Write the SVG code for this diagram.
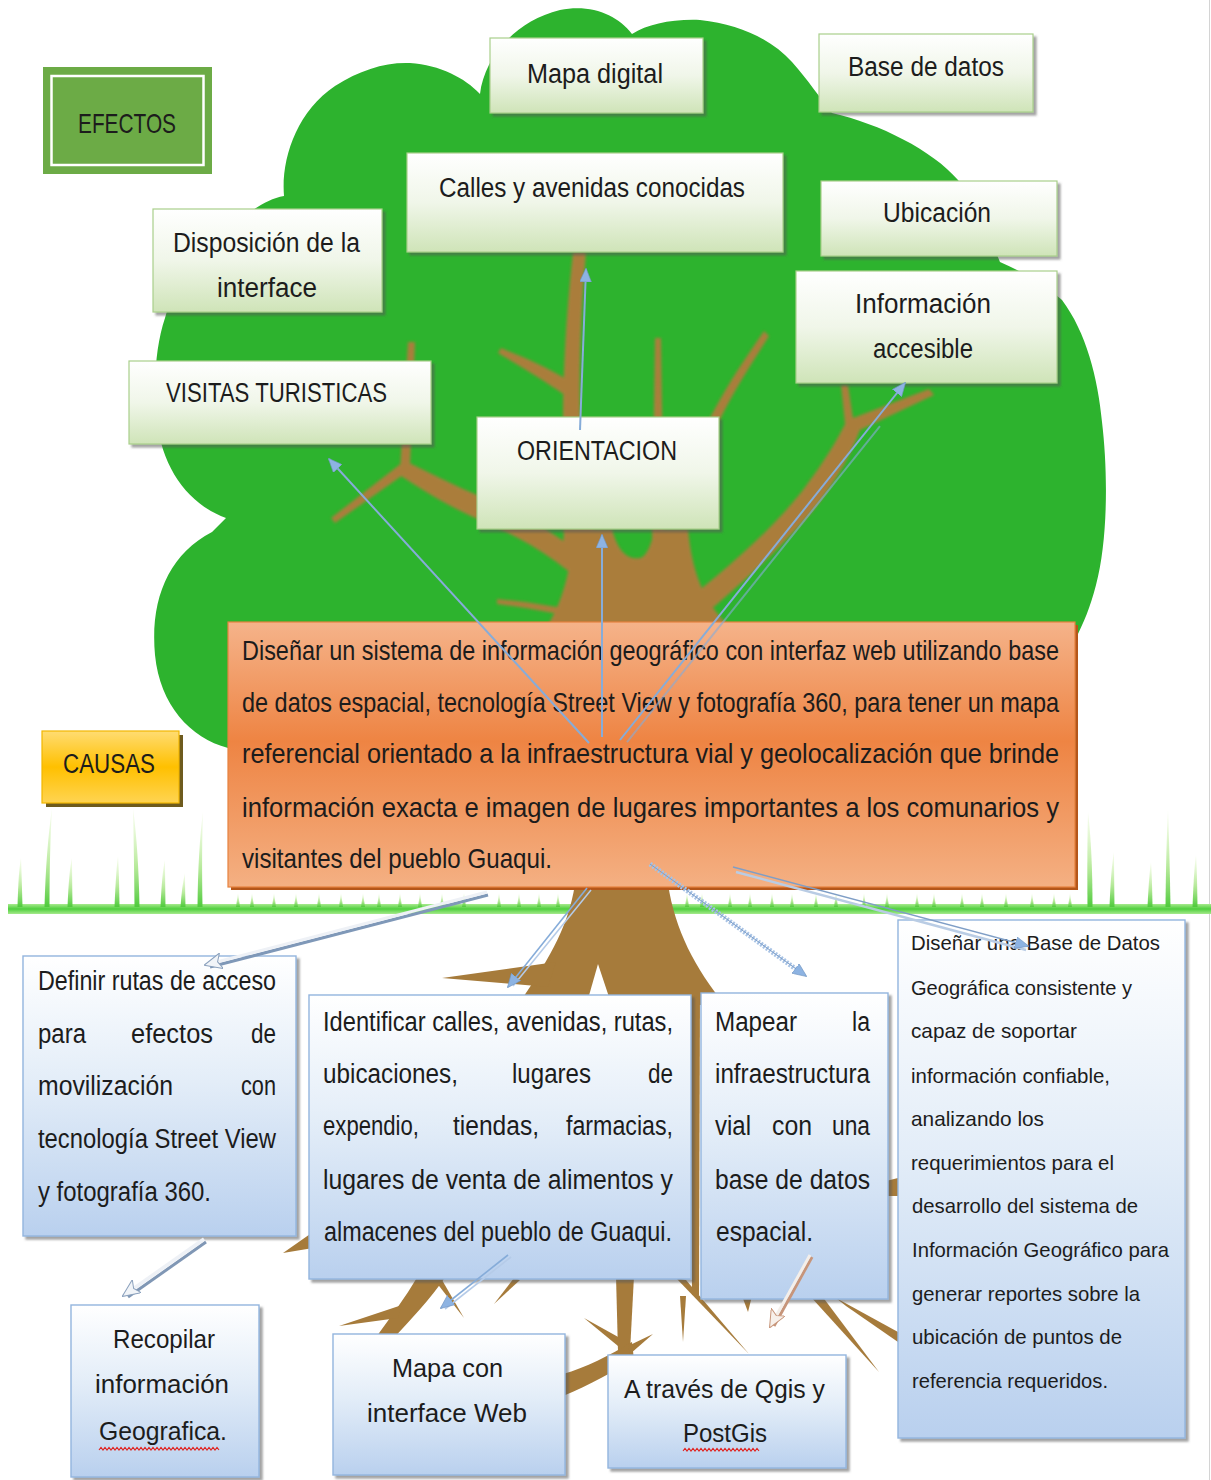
<svg xmlns="http://www.w3.org/2000/svg" width="1211" height="1480" viewBox="0 0 1211 1480">
  <defs>
    <style>
      .txt { font-family: "Liberation Sans", Arial, sans-serif; fill: #1c1c1c; }
      .f28 { font-size: 28px; }
      .f27 { font-size: 27px; }
      .f25 { font-size: 25px; }
      .f21 { font-size: 21px; }
      .effect { fill: url(#gEffect); stroke: #a9cf8b; stroke-width: 1.2; filter: url(#shadow); }
      .cause { fill: url(#gCause); stroke: #93b5de; stroke-width: 1.4; filter: url(#shadow); }
      .wood { fill: #b5793d; }
      .root { fill: #a67b3b; }
      .blade { fill: url(#gBlade); }
      .link { fill: none; stroke: #86acd9; stroke-width: 2; }
      .squig { fill: none; stroke: #e0201c; stroke-width: 1.1; }
    </style>
    <linearGradient id="gEffect" x1="0" y1="0" x2="0" y2="1">
      <stop offset="0" stop-color="#ffffff"/>
      <stop offset="0.5" stop-color="#f0f6e9"/>
      <stop offset="1" stop-color="#cfe4b8"/>
    </linearGradient>
    <linearGradient id="gCause" x1="0" y1="0" x2="0" y2="1">
      <stop offset="0" stop-color="#ffffff"/>
      <stop offset="0.45" stop-color="#e3edf8"/>
      <stop offset="1" stop-color="#b9d0ee"/>
    </linearGradient>
    <linearGradient id="gCore" x1="0" y1="0" x2="0" y2="1">
      <stop offset="0" stop-color="#f5b38a"/>
      <stop offset="0.45" stop-color="#ee8443"/>
      <stop offset="1" stop-color="#f4b083"/>
    </linearGradient>
    <linearGradient id="gGold" x1="0" y1="0" x2="0" y2="1">
      <stop offset="0" stop-color="#ffdc72"/>
      <stop offset="0.5" stop-color="#ffc000"/>
      <stop offset="1" stop-color="#ffd452"/>
    </linearGradient>
    <linearGradient id="gBlade" x1="0" y1="0" x2="0" y2="1">
      <stop offset="0" stop-color="#d9f5b5" stop-opacity="0.2"/>
      <stop offset="0.6" stop-color="#a7e586" stop-opacity="0.85"/>
      <stop offset="1" stop-color="#4fca3c"/>
    </linearGradient>
    <linearGradient id="gGround" x1="0" y1="0" x2="0" y2="1">
      <stop offset="0" stop-color="#a6ea8c"/>
      <stop offset="0.5" stop-color="#4fcf3e"/>
      <stop offset="1" stop-color="#a6ea8c"/>
    </linearGradient>
    <filter id="shadow" x="-5%" y="-5%" width="115%" height="120%">
      <feDropShadow dx="3" dy="3" stdDeviation="1.2" flood-color="#555555" flood-opacity="0.55"/>
    </filter>
    <filter id="soft" x="-5%" y="-5%" width="110%" height="110%">
      <feGaussianBlur stdDeviation="1.4"/>
    </filter>
    <marker id="mb" viewBox="0 0 14 12" markerUnits="userSpaceOnUse" markerWidth="14" markerHeight="12" refX="13" refY="6" orient="auto">
      <path d="M0,0 L14,6 L0,12 Z" fill="#8db3e2" stroke="#6f93c0" stroke-width="0.6"/>
    </marker>
    <marker id="mw" viewBox="0 0 18 16" markerUnits="userSpaceOnUse" markerWidth="18" markerHeight="16" refX="17" refY="8" orient="auto">
      <path d="M0,0 L18,8 L0,16 L4,8 Z" fill="#f1f4f8" stroke="#8aa0bc" stroke-width="1"/>
    </marker>
    <marker id="mt" viewBox="0 0 18 16" markerUnits="userSpaceOnUse" markerWidth="18" markerHeight="16" refX="17" refY="8" orient="auto">
      <path d="M0,0 L18,8 L0,16 L4,8 Z" fill="#f7f0ea" stroke="#c7957a" stroke-width="1"/>
    </marker>
  </defs>

  <rect x="0" y="0" width="1211" height="1480" fill="#ffffff"/>
  <line x1="1209.5" y1="0" x2="1209.5" y2="1480" stroke="#d4d4d4" stroke-width="1"/>

  <!-- tree crown -->
  <g id="crown">
    <path fill="#2db32e" d="M228 748 C190 738 160 705 155 655 C150 600 168 555 212 532 L226 518
      C190 505 162 470 157 420 C153 380 156 345 165 318 C178 270 212 225 253 210
      C263 203 273 198 284 196 C281 160 296 112 335 86 C360 70 385 62 410 63
      C440 65 465 78 480 94 C484 60 512 22 560 10 C592 4 617 15 632 34
      C648 24 672 19 700 20 C740 24 772 40 792 62 C808 80 820 98 832 113
      C880 124 932 150 958 180 C975 203 990 238 1000 262 C1028 274 1048 288 1062 300
      C1086 332 1098 378 1102 422 C1108 472 1108 540 1096 585 C1090 608 1084 622 1075 640
      L1075 760 L228 760 Z"/>
  </g>

  <!-- branches inside the crown -->
  <g id="branches" filter="url(#soft)" opacity="0.92">
    <path class="wood" d="M548 625 C566 595 572 560 573 529 L612 529 C618 552 628 560 640 558 C648 556 652 540 655 529 L688 529 C692 570 702 600 728 625 Z"/>
    <path class="wood" d="M562 560 C566 520 563 470 563 413 C564 340 569 290 573 252 L586 252 C582 300 579 350 580 413 C582 470 590 520 602 560 Z"/>
    <path class="wood" d="M566 396 C545 381 520 366 498 353 L501 348 C525 358 549 368 569 381 Z"/>
    <path class="wood" d="M652 540 L655 338 L661 338 L664 540 Z"/>
    <path class="wood" d="M690 470 C703 420 736 372 764 331 L769 336 C744 376 714 420 701 470 Z"/>
    <path class="wood" d="M662 620 C706 585 764 540 803 490 C824 462 836 442 845 424 L841 385 L848 385 L853 418 L929 389 L934 395 L860 430 C849 460 830 490 810 514 C770 560 722 600 694 624 Z"/>
    <path class="wood" d="M604 604 C568 566 528 540 480 520 C448 506 422 490 398 474 L403 460 C428 472 455 486 484 498 C532 517 574 544 616 586 Z"/>
    <path class="wood" d="M400 470 L408 342 L415 342 L410 466 Z"/>
    <path class="wood" d="M403 462 L331 518 L335 523 L410 470 Z"/>
    <path class="wood" d="M590 614 C560 607 530 602 497 599 L497 604 C530 608 560 614 590 621 Z"/>
  </g>

  <!-- ground line and grass -->
  <g id="ground">
    <rect x="8" y="904" width="1203" height="10" fill="url(#gGround)"/>
    <path class="blade" d="M17.5 907 Q18.5 870 21 858 Q21.5 870 22.5 907 Z"/>
    <path class="blade" d="M44.5 907 Q46 850 52 808 Q49.5 850 49.5 907 Z"/>
    <path class="blade" d="M67.5 907 Q69 870 72 858 Q72 870 72.5 907 Z"/>
    <path class="blade" d="M114.5 907 Q116 870 118 856 Q119 870 119.5 907 Z"/>
    <path class="blade" d="M134.5 907 Q134 850 133 808 Q138.5 850 139.5 907 Z"/>
    <path class="blade" d="M160.5 907 Q162 872 165 860 Q165 872 165.5 907 Z"/>
    <path class="blade" d="M180.5 907 Q182 885 185 873 Q185 885 185.5 907 Z"/>
    <path class="blade" d="M197.5 907 Q198 850 203 812 Q201.5 850 202.5 907 Z"/>
    <path class="blade" d="M1087.5 907 Q1087 850 1088 812 Q1092.5 850 1092.5 907 Z"/>
    <path class="blade" d="M1109.5 907 Q1111 868 1114 852 Q1114 868 1114.5 907 Z"/>
    <path class="blade" d="M1147.5 907 Q1149 875 1151 862 Q1152 875 1152.5 907 Z"/>
    <path class="blade" d="M1165.5 907 Q1166 850 1168 810 Q1169.5 850 1170.5 907 Z"/>
    <path class="blade" d="M1192.5 907 Q1194 868 1196 855 Q1197 868 1197.5 907 Z"/>
    <g class="blade">
      <path d="M236 907 L238 893 L240 907 Z"/><path d="M250 907 L252 893 L254 907 Z"/>
      <path d="M272 907 L274 893 L276 907 Z"/><path d="M294 907 L296 893 L298 907 Z"/>
      <path d="M317 907 L319 893 L321 907 Z"/><path d="M339 907 L341 893 L343 907 Z"/>
      <path d="M361 907 L363 893 L365 907 Z"/><path d="M377 907 L379 893 L381 907 Z"/>
      <path d="M398 907 L400 893 L402 907 Z"/><path d="M418 907 L420 893 L422 907 Z"/>
      <path d="M440 907 L442 893 L444 907 Z"/><path d="M462 907 L464 893 L466 907 Z"/>
      <path d="M497 907 L499 893 L501 907 Z"/><path d="M517 907 L519 893 L521 907 Z"/>
      <path d="M537 907 L539 893 L541 907 Z"/><path d="M556 907 L558 893 L560 907 Z"/>
      <path d="M685 907 L687 893 L689 907 Z"/><path d="M700 907 L702 893 L704 907 Z"/>
      <path d="M728 907 L730 893 L732 907 Z"/><path d="M748 907 L750 893 L752 907 Z"/>
      <path d="M770 907 L772 893 L774 907 Z"/><path d="M790 907 L792 893 L794 907 Z"/>
      <path d="M814 907 L816 893 L818 907 Z"/><path d="M834 907 L836 893 L838 907 Z"/>
      <path d="M862 907 L864 893 L866 907 Z"/><path d="M885 907 L887 893 L889 907 Z"/>
      <path d="M915 907 L917 893 L919 907 Z"/><path d="M932 907 L934 893 L936 907 Z"/>
      <path d="M960 907 L962 893 L964 907 Z"/><path d="M980 907 L982 893 L984 907 Z"/>
      <path d="M1004 907 L1006 893 L1008 907 Z"/><path d="M1030 907 L1032 893 L1034 907 Z"/>
      <path d="M1052 907 L1054 893 L1056 907 Z"/><path d="M1068 907 L1070 893 L1072 907 Z"/>
    </g>
  </g>

  <!-- trunk and roots below the ground -->
  <g id="roots">
    <path class="root" d="M575 884 L668 884 C675 930 695 968 725 1005 L518 1005 C545 965 568 930 575 884 Z"/>
    <path fill="#ffffff" d="M586 1006 L598 964 L612 1006 Z"/>
    <path class="root" d="M556 962 L442 978 L548 987 Z"/>
    <path class="root" d="M690 990 L700 990 L699 1295 L692 1295 Z"/>
    <path class="root" d="M313 1232 L283 1253 L313 1248 Z"/>
    <path class="root" d="M418 1276 L446 1276 C430 1300 410 1320 392 1340 L374 1340 C390 1318 405 1298 418 1276 Z"/>
    <path class="root" d="M402 1305 L339 1326 L398 1318 Z"/>
    <path class="root" d="M436 1282 L464 1318 L442 1280 Z"/>
    <path class="root" d="M514 1278 L494 1304 L520 1280 Z"/>
    <path class="root" d="M616 1276 L634 1276 L630 1352 L618 1352 Z"/>
    <path class="root" d="M632 1342 C610 1355 585 1368 563 1374 L563 1396 C590 1385 615 1370 634 1360 Z"/>
    <path class="root" d="M620 1338 L584 1318 L618 1346 Z"/>
    <path class="root" d="M628 1346 L653 1334 L630 1354 Z"/>
    <path class="root" d="M676 1278 L749 1354 L686 1280 Z"/>
    <path class="root" d="M680 1296 L683 1342 L686 1296 Z"/>
    <path class="root" d="M810 1296 L879 1372 L822 1296 Z"/>
    <path class="root" d="M836 1298 L898 1332 L898 1342 L846 1306 Z"/>
    <path class="root" d="M742 1296 L748 1312 L752 1296 Z"/>
    <path class="root" d="M882 1182 L898 1178 L898 1196 L884 1196 Z"/>
  </g>

  <!-- effect nodes -->
  <g id="node-efectos">
    <rect x="43" y="67" width="169" height="107" fill="#6cab46"/>
    <rect x="51.5" y="76" width="152" height="89" fill="none" stroke="#ffffff" stroke-width="2.5"/>
    <text class="txt f28" x="78" y="133" textLength="98" lengthAdjust="spacingAndGlyphs">EFECTOS</text>
  </g>
  <g id="node-mapa-digital">
    <rect class="effect" x="490" y="38" width="213" height="75"/>
    <text class="txt f27" x="527" y="83" textLength="136" lengthAdjust="spacingAndGlyphs">Mapa digital</text>
  </g>
  <g id="node-base-datos">
    <rect class="effect" x="819" y="34" width="214" height="78"/>
    <text class="txt f27" x="848" y="76" textLength="156" lengthAdjust="spacingAndGlyphs">Base de datos</text>
  </g>
  <g id="node-calles">
    <rect class="effect" x="407" y="153" width="376" height="99"/>
    <text class="txt f27" x="439" y="197" textLength="306" lengthAdjust="spacingAndGlyphs">Calles y avenidas conocidas</text>
  </g>
  <g id="node-ubicacion">
    <rect class="effect" x="821" y="181" width="236" height="75"/>
    <text class="txt f27" x="883" y="222" textLength="108" lengthAdjust="spacingAndGlyphs">Ubicación</text>
  </g>
  <g id="node-informacion">
    <rect class="effect" x="796" y="271" width="261" height="112"/>
    <text class="txt f27" x="855" y="313" textLength="136" lengthAdjust="spacingAndGlyphs">Información</text>
    <text class="txt f27" x="873" y="358" textLength="100" lengthAdjust="spacingAndGlyphs">accesible</text>
  </g>
  <g id="node-disposicion">
    <rect class="effect" x="153" y="209" width="229" height="103"/>
    <text class="txt f27" x="173" y="252" textLength="187" lengthAdjust="spacingAndGlyphs">Disposición  de la</text>
    <text class="txt f27" x="217" y="297" textLength="100" lengthAdjust="spacingAndGlyphs">interface</text>
  </g>
  <g id="node-visitas">
    <rect class="effect" x="129" y="361" width="302" height="83"/>
    <text class="txt f27" x="166" y="402" textLength="221" lengthAdjust="spacingAndGlyphs">VISITAS TURISTICAS</text>
  </g>
  <g id="node-orientacion">
    <rect class="effect" x="477" y="417" width="242" height="112"/>
    <text class="txt f27" x="517" y="460" textLength="160" lengthAdjust="spacingAndGlyphs">ORIENTACION</text>
  </g>

  <!-- central problem node -->
  <g id="node-objetivo">
    <rect x="231" y="625" width="847" height="265" fill="#b4561a"/>
    <rect x="228" y="622" width="847" height="265" fill="url(#gCore)" stroke="#e6823f" stroke-width="1.2"/>
    <text class="txt f28" x="242" y="660" textLength="817" lengthAdjust="spacingAndGlyphs">Diseñar un sistema de información geográfico con interfaz web utilizando base</text>
    <text class="txt f28" x="242" y="712" textLength="817" lengthAdjust="spacingAndGlyphs">de datos espacial, tecnología Street View y fotografía 360, para tener un mapa</text>
    <text class="txt f28" x="242" y="763" textLength="817" lengthAdjust="spacingAndGlyphs">referencial  orientado  a  la  infraestructura vial  y  geolocalización  que  brinde</text>
    <text class="txt f28" x="242" y="817" textLength="817" lengthAdjust="spacingAndGlyphs">información  exacta  e  imagen  de  lugares  importantes  a  los  comunarios  y</text>
    <text class="txt f28" x="242" y="868" textLength="310" lengthAdjust="spacingAndGlyphs">visitantes del pueblo Guaqui.</text>
  </g>

  <g id="node-causas">
    <rect x="46" y="735" width="137" height="72" fill="#6e5b1e"/>
    <rect x="42" y="731" width="137" height="72" fill="url(#gGold)" stroke="#f2b600" stroke-width="1.2"/>
    <text class="txt f27" x="63" y="773" textLength="92" lengthAdjust="spacingAndGlyphs">CAUSAS</text>
  </g>

  <!-- cause nodes -->
  <g id="node-definir">
    <rect class="cause" x="23" y="956" width="273" height="280"/>
    <text class="txt f27" x="38" y="990" textLength="238" lengthAdjust="spacingAndGlyphs">Definir rutas de acceso</text>
    <text class="txt f27" x="38" y="1043" textLength="48" lengthAdjust="spacingAndGlyphs">para</text>
    <text class="txt f27" x="131" y="1043" textLength="82" lengthAdjust="spacingAndGlyphs">efectos</text>
    <text class="txt f27" x="251" y="1043" textLength="25" lengthAdjust="spacingAndGlyphs">de</text>
    <text class="txt f27" x="38" y="1095" textLength="135" lengthAdjust="spacingAndGlyphs">movilización</text>
    <text class="txt f27" x="241" y="1095" textLength="35" lengthAdjust="spacingAndGlyphs">con</text>
    <text class="txt f27" x="38" y="1148" textLength="238" lengthAdjust="spacingAndGlyphs">tecnología Street View</text>
    <text class="txt f27" x="38" y="1201" textLength="173" lengthAdjust="spacingAndGlyphs">y fotografía 360.</text>
  </g>
  <g id="node-identificar">
    <rect class="cause" x="309" y="995" width="382" height="284"/>
    <text class="txt f27" x="323" y="1031" textLength="350" lengthAdjust="spacingAndGlyphs">Identificar calles, avenidas, rutas,</text>
    <text class="txt f27" x="323" y="1083" textLength="135" lengthAdjust="spacingAndGlyphs">ubicaciones,</text>
    <text class="txt f27" x="512" y="1083" textLength="79" lengthAdjust="spacingAndGlyphs">lugares</text>
    <text class="txt f27" x="648" y="1083" textLength="25" lengthAdjust="spacingAndGlyphs">de</text>
    <text class="txt f27" x="323" y="1135" textLength="96" lengthAdjust="spacingAndGlyphs">expendio,</text>
    <text class="txt f27" x="453" y="1135" textLength="86" lengthAdjust="spacingAndGlyphs">tiendas,</text>
    <text class="txt f27" x="566" y="1135" textLength="107" lengthAdjust="spacingAndGlyphs">farmacias,</text>
    <text class="txt f27" x="323" y="1189" textLength="350" lengthAdjust="spacingAndGlyphs">lugares de venta de alimentos y</text>
    <text class="txt f27" x="324" y="1241" textLength="348" lengthAdjust="spacingAndGlyphs">almacenes del pueblo de Guaqui.</text>
  </g>
  <g id="node-mapear">
    <rect class="cause" x="701" y="993" width="187" height="306"/>
    <text class="txt f27" x="715" y="1031" textLength="82" lengthAdjust="spacingAndGlyphs">Mapear</text>
    <text class="txt f27" x="852" y="1031" textLength="18" lengthAdjust="spacingAndGlyphs">la</text>
    <text class="txt f27" x="715" y="1083" textLength="155" lengthAdjust="spacingAndGlyphs">infraestructura</text>
    <text class="txt f27" x="715" y="1135" textLength="36" lengthAdjust="spacingAndGlyphs">vial</text>
    <text class="txt f27" x="772" y="1135" textLength="40" lengthAdjust="spacingAndGlyphs">con</text>
    <text class="txt f27" x="832" y="1135" textLength="38" lengthAdjust="spacingAndGlyphs">una</text>
    <text class="txt f27" x="715" y="1189" textLength="155" lengthAdjust="spacingAndGlyphs">base de datos</text>
    <text class="txt f27" x="716" y="1241" textLength="97" lengthAdjust="spacingAndGlyphs">espacial.</text>
  </g>
  <g id="node-disenar">
    <rect class="cause" x="898" y="920" width="287" height="518"/>
    <text class="txt f21" x="911" y="950" textLength="249" lengthAdjust="spacingAndGlyphs">Diseñar una Base de Datos</text>
    <text class="txt f21" x="911" y="995" textLength="221" lengthAdjust="spacingAndGlyphs">Geográfica consistente y</text>
    <text class="txt f21" x="911" y="1038" textLength="166" lengthAdjust="spacingAndGlyphs">capaz de soportar</text>
    <text class="txt f21" x="911" y="1083" textLength="199" lengthAdjust="spacingAndGlyphs">información confiable,</text>
    <text class="txt f21" x="911" y="1126" textLength="133" lengthAdjust="spacingAndGlyphs">analizando los</text>
    <text class="txt f21" x="911" y="1170" textLength="203" lengthAdjust="spacingAndGlyphs">requerimientos para el</text>
    <text class="txt f21" x="912" y="1213" textLength="226" lengthAdjust="spacingAndGlyphs">desarrollo del sistema de</text>
    <text class="txt f21" x="912" y="1257" textLength="257" lengthAdjust="spacingAndGlyphs">Información Geográfico para</text>
    <text class="txt f21" x="912" y="1301" textLength="228" lengthAdjust="spacingAndGlyphs">generar reportes sobre la</text>
    <text class="txt f21" x="912" y="1344" textLength="210" lengthAdjust="spacingAndGlyphs">ubicación de puntos de</text>
    <text class="txt f21" x="912" y="1388" textLength="196" lengthAdjust="spacingAndGlyphs">referencia requeridos.</text>
  </g>
  <g id="node-recopilar">
    <rect class="cause" x="71" y="1305" width="188" height="172"/>
    <text class="txt f25" x="113" y="1348" textLength="102" lengthAdjust="spacingAndGlyphs">Recopilar</text>
    <text class="txt f25" x="95" y="1393" textLength="134" lengthAdjust="spacingAndGlyphs">información</text>
    <text class="txt f25" x="99" y="1440" textLength="128" lengthAdjust="spacingAndGlyphs">Geografica.</text>
    <path class="squig" d="M99 1450 l2 -2.5 2 2.5 2 -2.5 2 2.5 2 -2.5 2 2.5 2 -2.5 2 2.5 2 -2.5 2 2.5 2 -2.5 2 2.5 2 -2.5 2 2.5 2 -2.5 2 2.5 2 -2.5 2 2.5 2 -2.5 2 2.5 2 -2.5 2 2.5 2 -2.5 2 2.5 2 -2.5 2 2.5 2 -2.5 2 2.5 2 -2.5 2 2.5 2 -2.5 2 2.5 2 -2.5 2 2.5 2 -2.5 2 2.5 2 -2.5 2 2.5 2 -2.5 2 2.5 2 -2.5 2 2.5 2 -2.5 2 2.5 2 -2.5 2 2.5 2 -2.5 2 2.5 2 -2.5 2 2.5 2 -2.5 2 2.5 2 -2.5 2 2.5 2 -2.5 2 2.5 2 -2.5 2 2.5 2 -2.5 2 2.5"/>
  </g>
  <g id="node-mapa-web">
    <rect class="cause" x="333" y="1334" width="232" height="141"/>
    <text class="txt f25" x="392" y="1377" textLength="111" lengthAdjust="spacingAndGlyphs">Mapa con</text>
    <text class="txt f25" x="367" y="1422" textLength="160" lengthAdjust="spacingAndGlyphs">interface Web</text>
  </g>
  <g id="node-qgis">
    <rect class="cause" x="608" y="1355" width="238" height="113"/>
    <text class="txt f25" x="624" y="1398" textLength="201" lengthAdjust="spacingAndGlyphs">A través de Qgis y</text>
    <text class="txt f25" x="683" y="1442" textLength="84" lengthAdjust="spacingAndGlyphs">PostGis</text>
    <path class="squig" d="M683 1451 l2 -2.5 2 2.5 2 -2.5 2 2.5 2 -2.5 2 2.5 2 -2.5 2 2.5 2 -2.5 2 2.5 2 -2.5 2 2.5 2 -2.5 2 2.5 2 -2.5 2 2.5 2 -2.5 2 2.5 2 -2.5 2 2.5 2 -2.5 2 2.5 2 -2.5 2 2.5 2 -2.5 2 2.5 2 -2.5 2 2.5 2 -2.5 2 2.5 2 -2.5 2 2.5 2 -2.5 2 2.5 2 -2.5 2 2.5 2 -2.5 2 2.5"/>
  </g>

  <!-- connectors -->
  <g id="connectors">
    <line class="link" x1="589" y1="743" x2="329" y2="459" marker-end="url(#mb)"/>
    <line class="link" x1="602" y1="737" x2="602" y2="535" marker-end="url(#mb)"/>
    <line class="link" x1="580" y1="430" x2="586" y2="269" marker-end="url(#mb)"/>
    <line class="link" x1="620" y1="740" x2="905" y2="383" marker-end="url(#mb)"/>
    <line class="link" x1="627" y1="742" x2="880" y2="426" stroke-opacity="0.6"/>

    <line x1="488" y1="895" x2="210" y2="967" stroke="#7f98b8" stroke-width="3"/>
    <line x1="487" y1="892" x2="205" y2="965" stroke="#eef1f6" stroke-width="3" marker-end="url(#mw)"/>

    <line x1="591" y1="890" x2="513" y2="986" stroke="#b5cbe8" stroke-width="1.6"/>
    <line x1="587" y1="888" x2="508" y2="987" stroke="#86acd9" stroke-width="1.6" marker-end="url(#mb)"/>

    <line x1="650" y1="864" x2="800" y2="972" stroke="#a8c3e5" stroke-width="5" stroke-dasharray="2 1.5"/>
    <line x1="650" y1="864" x2="806" y2="976" stroke="#7e9fc9" stroke-width="1" marker-end="url(#mb)"/>

    <line x1="736" y1="872" x2="1026" y2="950" stroke="#b9cce4" stroke-width="2.5"/>
    <line x1="733" y1="867" x2="1028" y2="946" stroke="#7f9ec6" stroke-width="1.5" marker-end="url(#mb)"/>

    <line x1="206" y1="1242" x2="128" y2="1297" stroke="#8097b5" stroke-width="3"/>
    <line x1="204" y1="1239" x2="123" y2="1296" stroke="#eef1f6" stroke-width="3.5" marker-end="url(#mw)"/>

    <line x1="511" y1="1257" x2="445" y2="1309" stroke="#b5cbe8" stroke-width="1.6"/>
    <line x1="508" y1="1255" x2="441" y2="1308" stroke="#86acd9" stroke-width="1.6" marker-end="url(#mb)"/>

    <line x1="812" y1="1257" x2="774" y2="1326" stroke="#c7957a" stroke-width="3"/>
    <line x1="810" y1="1255" x2="770" y2="1327" stroke="#f4efea" stroke-width="3" marker-end="url(#mt)"/>
  </g>
</svg>
